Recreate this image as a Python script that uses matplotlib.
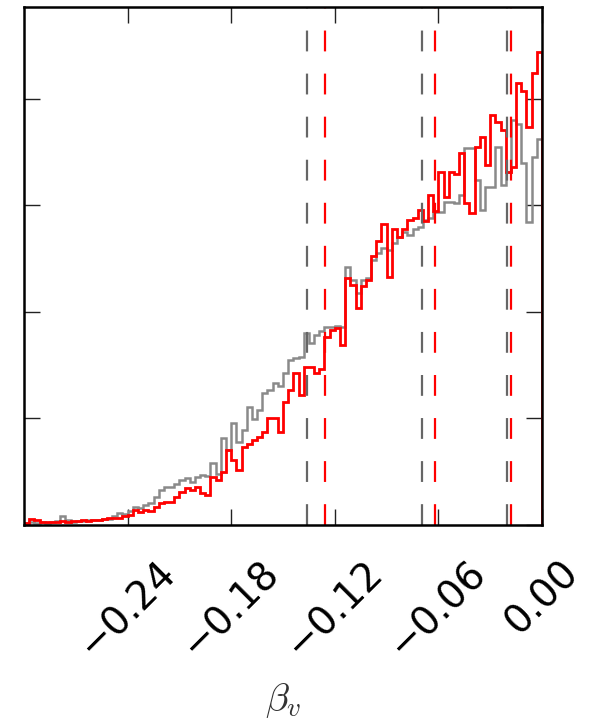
"""
plot.py — step histograms of beta_v for two samples, with dashed markers.
"""
import numpy as np
import matplotlib
matplotlib.use("Agg")
import matplotlib.pyplot as plt

plt.rcParams["lines.scale_dashes"] = False
plt.rcParams["mathtext.fontset"] = "cm"

# Histogram range and bin heights (arbitrary units)
X_MIN, X_MAX, N_BINS = -0.30, 0.0, 100

gray_counts = [
    0.02, 0.03, 0.02, 0.03, 0.02, 0.03, 0.04, 0.08, 0.05, 0.03,
    0.04, 0.04, 0.05, 0.05, 0.05, 0.06, 0.06, 0.08, 0.11, 0.10,
    0.13, 0.17, 0.16, 0.19, 0.21, 0.26, 0.33, 0.36, 0.36, 0.38,
    0.42, 0.44, 0.40, 0.45, 0.47, 0.46, 0.58, 0.48, 0.82, 0.70,
    0.96, 0.78, 0.89, 1.11, 0.99, 1.08, 1.24, 1.27, 1.33, 1.30,
    1.43, 1.55, 1.57, 1.58, 1.80, 1.71, 1.78, 1.82, 1.86, 1.86,
    1.87, 1.86, 2.42, 2.30, 2.18, 2.30, 2.32, 2.49, 2.55, 2.60,
    2.58, 2.65, 2.70, 2.75, 2.72, 2.78, 2.80, 2.86, 2.88, 2.94,
    2.94, 3.03, 3.03, 3.02, 3.10, 3.54, 3.54, 3.24, 2.96, 3.17,
    3.17, 3.55, 3.19, 3.31, 3.80, 3.76, 3.40, 2.84, 3.45, 3.62,
]

red_counts = [
    0.02, 0.06, 0.05, 0.03, 0.03, 0.03, 0.03, 0.04, 0.03, 0.04,
    0.04, 0.05, 0.04, 0.05, 0.05, 0.06, 0.07, 0.07, 0.07, 0.08,
    0.09, 0.14, 0.12, 0.14, 0.13, 0.17, 0.21, 0.22, 0.22, 0.26,
    0.31, 0.35, 0.33, 0.36, 0.30, 0.28, 0.45, 0.42, 0.50, 0.70,
    0.61, 0.52, 0.73, 0.76, 0.80, 0.83, 0.87, 1.00, 1.00, 0.87,
    1.15, 1.27, 1.43, 1.22, 1.48, 1.48, 1.43, 1.46, 1.76, 1.83,
    1.85, 1.69, 2.32, 2.25, 2.04, 2.24, 2.30, 2.52, 2.66, 2.82,
    2.33, 2.78, 2.70, 2.78, 2.86, 2.88, 2.96, 2.85, 3.10, 2.95,
    3.31, 3.08, 3.31, 3.29, 3.49, 3.02, 2.93, 3.55, 3.64, 3.38,
    3.85, 3.78, 3.71, 3.31, 3.36, 4.15, 4.07, 3.73, 4.24, 4.44,
]

# Dashed reference lines for each sample
gray_marks = [-0.1361, -0.0695, -0.0203]
red_marks = [-0.1257, -0.0620, -0.0180]

xticks = [-0.24, -0.18, -0.12, -0.06, 0.00]
xtick_labels = ["\u22120.24", "\u22120.18", "\u22120.12", "\u22120.06", "0.00"]
yticks = [0, 1, 2, 3, 4]
Y_MAX = 4.86

GRAY = "#8a8a8a"
DASH_GRAY = "#666666"
RED = "#ff0000"

fig = plt.figure(figsize=(5.92, 7.26), dpi=100)
ax = fig.add_axes([24 / 592, 201 / 726, 518 / 592, 518 / 726])

edges = np.linspace(X_MIN, X_MAX, N_BINS + 1)
centers = 0.5 * (edges[:-1] + edges[1:])

ax.hist(centers, bins=edges, weights=gray_counts, histtype="step",
        color=GRAY, linewidth=1.8)
ax.hist(centers, bins=edges, weights=red_counts, histtype="step",
        color=RED, linewidth=2.0)

for x in gray_marks:
    ax.axvline(x, color=DASH_GRAY, linestyle=(0, (15, 16)), linewidth=1.6)
for x in red_marks:
    ax.axvline(x, color=RED, linestyle=(0, (15, 16)), linewidth=1.6)

ax.set_xlim(X_MIN, X_MAX)
ax.set_ylim(0, Y_MAX)
ax.set_xticks(xticks)
ax.set_xticklabels(xtick_labels, rotation=45, ha="center", fontsize=28)
ax.set_yticks(yticks)
ax.set_yticklabels([])

ax.tick_params(direction="in", length=11.5, width=1.0, color="#222222",
               top=True, right=True, pad=20)
for spine in ax.spines.values():
    spine.set_linewidth(1.8)

ax.set_xlabel(r"$\beta_v$", fontsize=28, labelpad=12, color="#333333")

fig.savefig("out.png", dpi=100)
plt.close(fig)
